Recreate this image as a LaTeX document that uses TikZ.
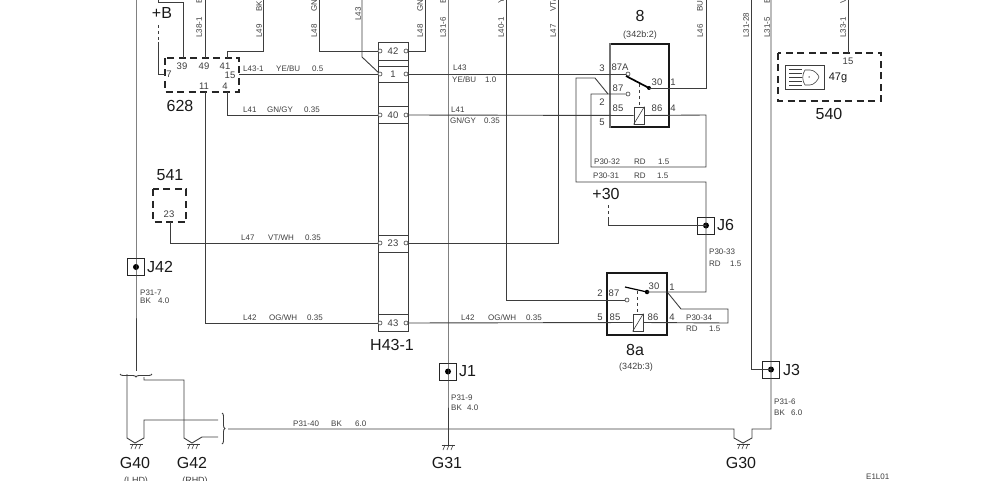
\documentclass[tikz,border=0pt]{standalone}
\usepackage{fontspec}
\setmainfont{Liberation Sans}
\usetikzlibrary{decorations.pathreplacing}
\definecolor{ink}{gray}{0.24}

\tikzset{
  wire/.style={draw=ink, line width=0.9pt},
  thinwire/.style={draw=ink, line width=0.6pt},
  unitbox/.style={draw=black!85, line width=1.5pt, dash pattern=on 7pt off 4.5pt},
  relaybox/.style={draw=black!90, line width=1.7pt},
  arm/.style={draw=black, line width=1.7pt},
  coil/.style={draw=ink, fill=white, line width=0.7pt, minimum width=10pt, minimum height=17pt, inner sep=0pt},
  pinc/.style={circle, draw=ink, fill=white, line width=0.6pt, minimum size=4pt, inner sep=0pt},
  junc/.style={rectangle, draw=black!85, line width=0.8pt, minimum size=17pt, inner sep=0pt},
  dotc/.style={circle, fill=black, minimum size=6pt, inner sep=0pt},
  smalltxt/.style={anchor=west, inner sep=0pt, text=ink, font=\fontsize{8}{9}\selectfont},
  vtxt/.style={anchor=west, rotate=90, inner sep=0pt, text=ink, font=\fontsize{8}{9}\selectfont},
  pintxt/.style={inner sep=0pt, text=ink, font=\fontsize{9.5}{11}\selectfont},
  bigtxt/.style={inner sep=0pt, text=black!90, font=\fontsize{16}{18}\selectfont},
  midtxt/.style={inner sep=0pt, text=ink, font=\fontsize{9}{11}\selectfont},
  brace3/.style={wire, decorate, decoration={brace, amplitude=3pt}},
}

\begin{document}
\begin{tikzpicture}[x=1pt, y=-1pt]
  \useasboundingbox (0,0) rectangle (1000,481);
  \clip (0,0) rectangle (1000,481);

  % free ends on the sheet edge
  \foreach \nm/\px in {t1/136, t2/158, t3/205, t4/263, t5/319, t6/362, t7/425, t8/448, t9/506, t10/558, t11/706, t12/751, t13/771, t14/848}
    \coordinate (\nm) at (\px,0);

  % connector H43-1
  \coordinate (ha) at (378,42);
  \coordinate (hb) at (408,331);
  \draw[wire] (ha) rectangle (hb);
  \foreach \py in {60,66,82,106,123,235,252,314}
    \draw[wire] (378,\py) -- (408,\py);
  \foreach \nm/\py/\lab in {p42/51/42, p1/74/1, p40/115/40, p23/243/23, p43/323/43} {
    \node[pinc] (\nm l) at (380,\py) {};
    \node[pinc] (\nm r) at (406,\py) {};
    \node[pintxt] (\nm t) at (393,\py) {\lab};
  }
  \node[bigtxt] (h43) at (392,345) {H43-1};

  % units
  \draw[unitbox] (165,58) rectangle (239,92);
  \node[bigtxt] (u628) at (180,106) {628};
  \draw[unitbox] (153,189) rectangle (186,222);
  \node[bigtxt] (u541) at (170,175) {541};
  \draw[unitbox] (778,53) rectangle (881,101);
  \node[bigtxt] (u540) at (829,114) {540};
  \coordinate (n39) at (183,58);
  \coordinate (n49) at (205,58);
  \coordinate (n41) at (227,58);
  \coordinate (n7) at (165,74);
  \coordinate (n15) at (239,74);
  \coordinate (n11) at (205,92);
  \coordinate (n4) at (227,92);
  \coordinate (n23) at (170,222);
  \coordinate (n15b) at (848,53);

  % lamp
  \node[draw=ink, line width=0.7pt, minimum width=39pt, minimum height=24pt, inner sep=0pt] (lamp) at (804.5,77) {};
  \foreach \py in {69,73,77,81,85}
    \draw[thinwire] (789,\py) -- (802,\py);
  \draw[thinwire] (805,70) .. controls (802,74) and (802,81) .. (805,85) -- (810,85) .. controls (814,85) and (818,80) .. (819,77) .. controls (818,74) and (814,70) .. (810,70) -- cycle;
  \node[circle, fill=ink, minimum size=1.5pt, inner sep=0pt] (lampdot) at (809,77) {};

  % relay 8
  \draw[relaybox] (610,44) -- (669,44) -- (669,127) -- (610,127);
  \draw[draw=black!55, line width=1.7pt] (610,43.2) -- (610,127.8);
  \node[coil] (coil8) at (639,115.5) {};
  \node[pinc] (c87A) at (628,74) {};
  \node[pinc] (c87) at (628,94) {};
  \coordinate (n30) at (649,88);
  \draw[arm] (626,76) -- (n30);
  \node[dotc, minimum size=4pt] (d30) at (n30) {};
  \draw[wire, dashed] (639,84) -- (coil8.north);
  \draw[thinwire] (coil8.south west) -- (coil8.north east);

  % relay 8a
  \draw[relaybox] (607,273) rectangle (667,335);
  \node[coil] (coil8a) at (638,322.5) {};
  \node[pinc] (c87b) at (627,300) {};
  \coordinate (m30) at (647,292);
  \draw[black, line width=1.2pt] (625,287) -- (m30);
  \node[dotc, minimum size=4.5pt] (d30b) at (m30) {};
  \draw[wire, dashed] (637,291) -- (637,314);
  \draw[thinwire] (coil8a.south west) -- (coil8a.north east);

  % junctions
  \node[junc] (J42) at (136,267) {};
  \node[junc] (J1) at (448,371.5) {};
  \node[junc] (J6) at (706,225.5) {};
  \node[junc] (J3) at (771,369.5) {};
  \foreach \nm in {J42,J1,J6,J3}
    \node[dotc] (\nm d) at (\nm) {};

  % grounds
  \coordinate (g40) at (136,444);
  \coordinate (g42) at (193,444);
  \coordinate (g31) at (448,445);
  \coordinate (g30) at (743,444);
  \foreach \nm in {g40,g42,g31,g30} {
    \draw[thinwire] ([xshift=-6.5pt]\nm) -- ([xshift=6.5pt]\nm);
    \foreach \dx in {-3,1,5}
      \draw[thinwire] ([xshift=\dx pt]\nm) -- ([xshift=\dx pt-2pt, yshift=-5pt]\nm);
  }

  % wires
  \draw[wire] (t1) -- (J42.center) -- (136,371);
  \draw[brace3] (152,374) -- (120,374);
  \draw[wire] (127,374) -- (127,438) -- (135,443) -- (144,438) -- (144,420) -- (218,420);
  \draw[wire] (144,377) -- (144,380) -- (184,380) -- (184,438) -- (192,443) -- (202,437) -- (218,437);
  \draw[brace3] (222,413) -- (222,444);
  \draw[wire] (228,429) -- (734,429) -- (734,438) -- (743,443) -- (752,438) -- (752,429) -- (771,429) -- (J3.center) -- (t13);
  \draw[wire] (t12) -- (751,369.5) -- (J3.center);
  \draw[wire] (t8) -- (J1.center) -- (448,445);
  \draw[wire] (t2) -- (158,2) -- (183,2) -- (n39);
  \draw[wire, dashed] (158,25) -- (158,42);
  \draw[wire] (158,42) -- (158,74) -- (n7);
  \draw[wire] (t3) -- (n49);
  \draw[wire] (n11) -- (205,323) -- (p43l);
  \draw[wire] (t4) -- (263,51) -- (227,51) -- (n41);
  \draw[wire] (t5) -- (319,51) -- (p42l);
  \draw[wire] (t6) -- (362,57) -- (p1l);
  \draw[wire] (t7) -- (425,51) -- (p42r);
  \draw[wire] (n15) -- (p1l);
  \draw[wire] (n4) -- (227,115) -- (p40l);
  \draw[wire] (n23) -- (170,243) -- (p23l);
  \draw[wire] (p23r) -- (558,243) -- (t10);
  \draw[wire] (t9) -- (506,300) -- (c87b);
  \draw[wire] (p1r) -- (c87A);
  \draw[wire] (p40r) -- (coil8.west);
  \draw[wire] (coil8.east) -- (706,115) -- (706,167) -- (591,167) -- (591,94) -- (c87);
  \draw[wire] (t11) -- (706,88) -- (n30);
  \draw[wire] (608,94) -- (595,78) -- (576,78) -- (576,182) -- (706,182) -- (J6.center) -- (706,292) -- (m30);
  \draw[wire, dashed] (608,205) -- (608,218);
  \draw[wire] (608,218) -- (608,225.5) -- (J6.center);
  \draw[wire] (p43r) -- (coil8a.west);
  \draw[wire] (coil8a.east) -- (728,323) -- (728,309) -- (681,309) -- (668,293);
  \draw[wire] (n15b) -- (t14);

  % wire texts
  \foreach \px/\py/\txt [count=\i] in {
    243/69/L43-1, 276/69/{YE/BU}, 312/69/0.5,
    243/110/L41, 267/110/{GN/GY}, 304/110/0.35,
    241/238/L47, 268/238/{VT/WH}, 305/238/0.35,
    243/318/L42, 269/318/{OG/WH}, 307/318/0.35,
    453/68/L43, 452/80/{YE/BU}, 485/80/1.0,
    451/110/L41, 450/121/{GN/GY}, 484/121/0.35,
    461/318/L42, 488/318/{OG/WH}, 526/318/0.35,
    594/162/P30-32, 634/162/RD, 658/162/1.5,
    593/176/P30-31, 634/176/RD, 657/176/1.5,
    709/252/P30-33, 709/264/RD, 730/264/1.5,
    686/318/P30-34, 686/329/RD, 709/329/1.5,
    140/293/P31-7, 140/301/BK, 158/301/4.0,
    451/398/P31-9, 451/408/BK, 467/408/4.0,
    774/402/P31-6, 774/413/BK, 791/413/6.0,
    293/424/P31-40, 331/424/BK, 355/424/6.0,
    866/477/E1L01}
    \node[smalltxt] (s\i) at (\px,\py) {\txt};

  % texts along the vertical wires
  \foreach \px/\py/\txt [count=\i] in {
    199/38/L38-1, 199/4/BK, 259/38/L49, 259/12/BK,
    314/38/L48, 314/12/{GN/GY}, 358/21/L43, 420/38/L48, 420/12/{GN/GY},
    443/38/L31-6, 443/4/BK, 501/38/L40-1, 501/4/YE,
    553/38/L47, 553/12/{VT/WH}, 700/38/L46, 700/12/BU,
    746/38/L31-28, 767/38/L31-5, 767/4/BK, 843/38/L33-1, 843/4/VT}
    \node[vtxt] (v\i) at (\px,\py) {\txt};

  % pin numbers
  \foreach \px/\py/\txt [count=\i] in {
    182/66/39, 204/66/49, 225/66/41, 169/74/7, 230/75/15, 204/86/11, 225/86/4,
    169/214/23, 848/61/15,
    602/68/3, 620/67/87A, 657/82/30, 673/82/1, 618/88/87, 602/102/2,
    618/108/85, 657/108/86, 673/108/4, 602/122/5,
    600/293/2, 614/293/87, 654/286/30, 672/287/1,
    600/317/5, 615/317/85, 653/317/86, 672/317/4}
    \node[pintxt] (n\i) at (\px,\py) {\txt};

  % big labels
  \foreach \px/\py/\txt [count=\i] in {
    162/13/+B, 640/16/8, 635/350/8a, 606/194/+30,
    135/463/G40, 192/463/G42, 447/463/G31, 741/463/G30}
    \node[bigtxt] (b\i) at (\px,\py) {\txt};
  \node[bigtxt, anchor=west] (tJ42) at (147,267) {J42};
  \node[bigtxt, anchor=west] (tJ1) at (459,371) {J1};
  \node[bigtxt, anchor=west] (tJ6) at (717,225) {J6};
  \node[bigtxt, anchor=west] (tJ3) at (783,370) {J3};
  \node[bigtxt, font=\fontsize{11}{13}\selectfont] (t47g) at (838,78) {47g};

  \node[midtxt] (q8) at (640,35) {(342b:2)};
  \node[midtxt] (q8a) at (636,367) {(342b:3)};
  \node[midtxt] (qL) at (136,481) {(LHD)};
  \node[midtxt] (qR) at (195,481) {(RHD)};
\end{tikzpicture}
\end{document}
